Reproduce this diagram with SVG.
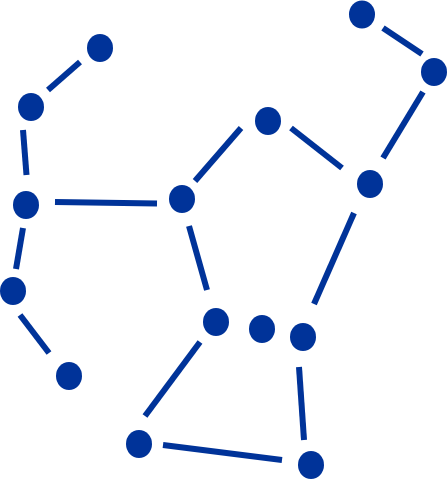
<svg xmlns="http://www.w3.org/2000/svg" width="448" height="480" viewBox="0 0 448 480">
<style>
.star{fill:#003399}
.ln{stroke:#003399;stroke-width:6;stroke-linecap:butt;fill:none}
</style>
<rect width="448" height="480" fill="#ffffff"/>
<g id="connectors">
<line class="ln" x1="80" y1="62" x2="48" y2="90"/>
<line class="ln" x1="23" y1="130" x2="26.5" y2="175"/>
<line class="ln" x1="23" y1="228" x2="16" y2="269"/>
<line class="ln" x1="20" y1="315" x2="49" y2="353"/>
<line class="ln" x1="55" y1="202" x2="157" y2="203.5"/>
<line class="ln" x1="195" y1="181" x2="241" y2="128"/>
<line class="ln" x1="291" y1="128" x2="342" y2="168"/>
<line class="ln" x1="383" y1="28" x2="422" y2="54"/>
<line class="ln" x1="423" y1="92" x2="383" y2="158"/>
<line class="ln" x1="354" y1="213" x2="314" y2="304"/>
<line class="ln" x1="189" y1="226" x2="207" y2="290"/>
<line class="ln" x1="200" y1="342" x2="145" y2="416"/>
<line class="ln" x1="163" y1="445" x2="282" y2="460"/>
<line class="ln" x1="299" y1="367" x2="304" y2="440"/>
</g>
<g id="s1"><ellipse class="star" cx="100" cy="48" rx="13" ry="14"/></g>
<g id="s2"><ellipse class="star" cx="31" cy="107" rx="13" ry="14"/></g>
<g id="s3"><ellipse class="star" cx="26" cy="205" rx="13" ry="14"/></g>
<g id="s4"><ellipse class="star" cx="13" cy="291" rx="13" ry="14"/></g>
<g id="s5"><ellipse class="star" cx="69" cy="376" rx="13" ry="14"/></g>
<g id="s6"><ellipse class="star" cx="362" cy="14.5" rx="13" ry="14"/></g>
<g id="s7"><ellipse class="star" cx="434" cy="72" rx="13" ry="14"/></g>
<g id="s8"><ellipse class="star" cx="268" cy="121" rx="13" ry="14"/></g>
<g id="s9"><ellipse class="star" cx="370" cy="184" rx="13" ry="14"/></g>
<g id="s10"><ellipse class="star" cx="182" cy="199" rx="13" ry="14"/></g>
<g id="s11"><ellipse class="star" cx="216" cy="322" rx="13" ry="14"/></g>
<g id="s12"><ellipse class="star" cx="262" cy="329" rx="13" ry="14"/></g>
<g id="s13"><ellipse class="star" cx="303" cy="337" rx="13" ry="14"/></g>
<g id="s14"><ellipse class="star" cx="139" cy="444" rx="13" ry="14"/></g>
<g id="s15"><ellipse class="star" cx="311" cy="465" rx="13" ry="14"/></g>
</svg>
